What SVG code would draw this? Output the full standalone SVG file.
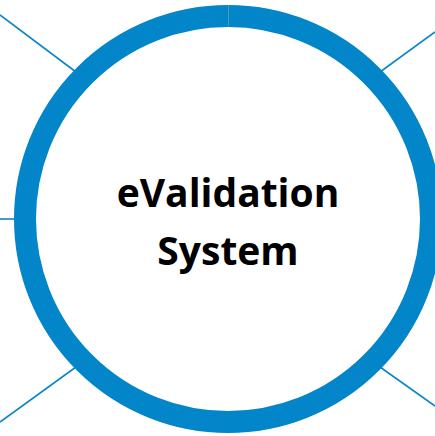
<svg xmlns="http://www.w3.org/2000/svg" width="435" height="436" viewBox="0 0 435 436">
<style>
.conn{stroke:#0A86C8;stroke-width:1.6;fill:none}
.ring{fill:#FFFFFF;stroke:#0285C9;stroke-width:22}
.lbl{font-family:"Open Sans","Liberation Sans",sans-serif;font-weight:bold;font-size:39px;fill:#000000;text-anchor:middle}
</style>
<rect width="435" height="436" fill="#FFFFFF"/>
<g id="connectors">
<line class="conn" x1="0" y1="15" x2="76" y2="72"/>
<line class="conn" x1="380" y1="72" x2="435" y2="32"/>
<line class="conn" x1="0" y1="219" x2="16" y2="219"/>
<line class="conn" x1="76" y1="367" x2="0" y2="422"/>
<line class="conn" x1="380" y1="367" x2="435" y2="406"/>
</g>
<g id="evalidation-system">
<circle class="ring" cx="228" cy="219" r="203"/>
<line x1="228.5" y1="5" x2="228.5" y2="26" stroke="#5FA3A0" stroke-width="0.8"/>
<text class="lbl" x="228" y="207">eValidation</text>
<text class="lbl" x="228" y="265">System</text>
</g>
</svg>
